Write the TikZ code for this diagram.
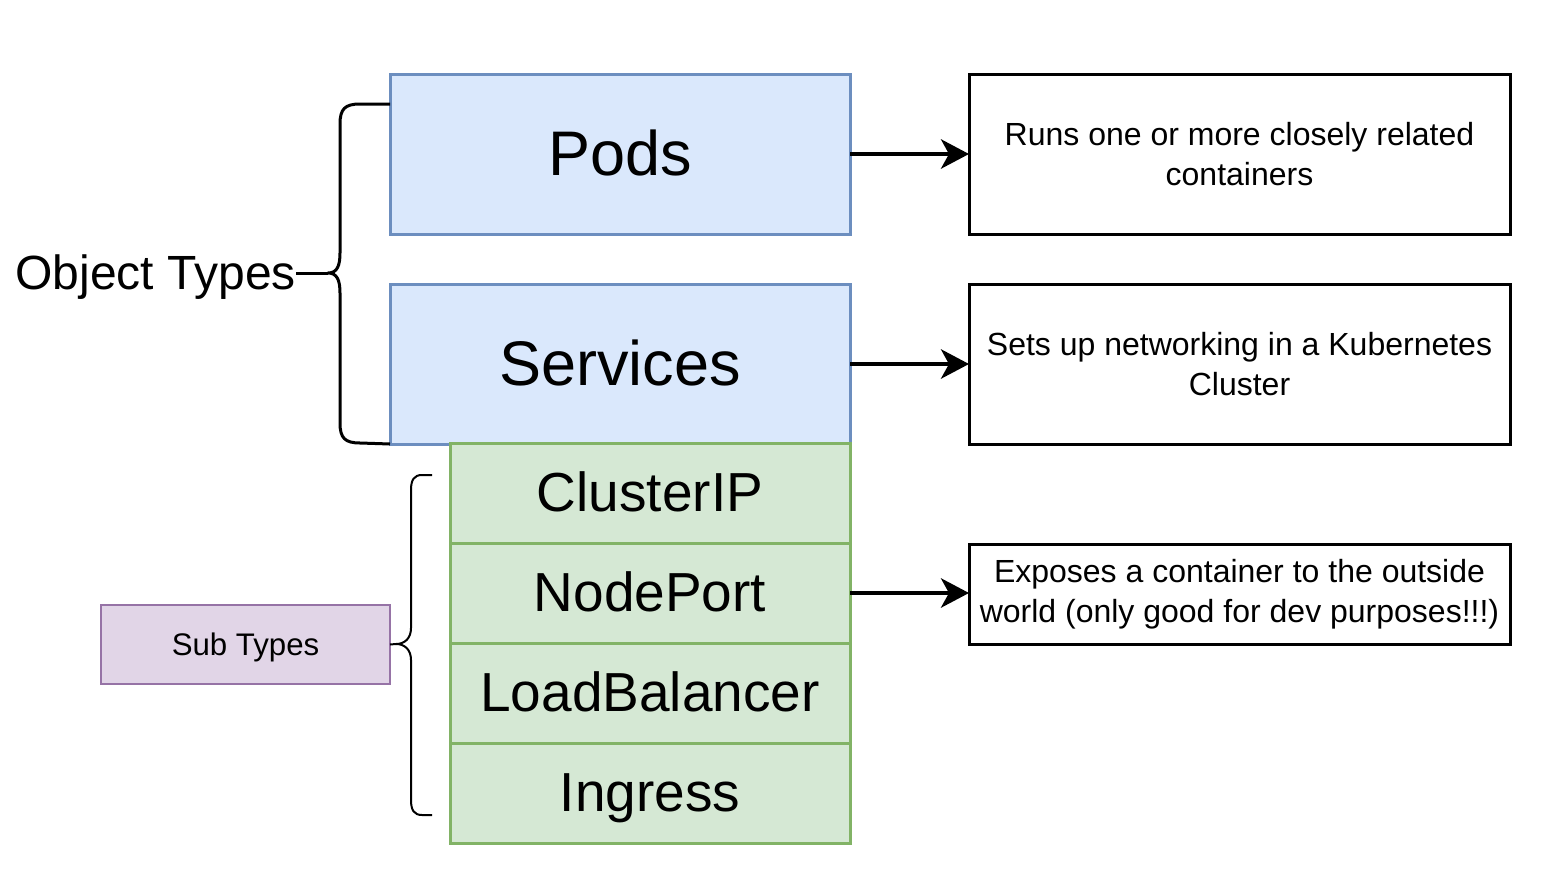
\documentclass[tikz,border=0pt]{standalone}
\usepackage{fontspec}
\setmainfont{Liberation Sans}
\usetikzlibrary{arrows.meta,calc}
\definecolor{bluefill}{HTML}{DAE8FC}
\definecolor{bluedraw}{HTML}{6C8EBF}
\definecolor{greenfill}{HTML}{D5E8D4}
\definecolor{greendraw}{HTML}{82B366}
\definecolor{purplefill}{HTML}{E1D5E7}
\definecolor{purpledraw}{HTML}{9673A6}
\begin{document}
\begin{tikzpicture}[x=0.75pt,y=-0.75pt,
  objbox/.style={rectangle, inner sep=0, outer sep=0, fill=bluefill, draw=bluedraw,
    line width=2.25pt, minimum width=345pt, minimum height=120pt,
    font=\fontsize{47.25}{56}\selectfont, text height=42.5pt, text depth=10pt},
  subbox/.style={rectangle, inner sep=0, outer sep=0, fill=greenfill, draw=greendraw,
    line width=2.25pt, minimum width=300pt, minimum height=75pt,
    font=\fontsize{41.25}{50}\selectfont, text height=37.1pt, text depth=8.7pt},
  notebox/.style={rectangle, inner sep=0, outer sep=0, draw=black, line width=2.25pt,
    minimum width=405.75pt, align=center, font=\fontsize{24}{30}\selectfont},
  tagbox/.style={rectangle, inner sep=0, outer sep=0, fill=purplefill, draw=purpledraw,
    line width=1.5pt, minimum width=216.75pt, minimum height=59.25pt,
    font=\fontsize{23.4}{28}\selectfont, text height=21pt, text depth=4.9pt},
  arr/.style={line width=3pt, -{Stealth[length=21pt, width=22pt, inset=6pt]}},
  bigbrace/.style={line width=2.25pt, line join=round},
  smallbrace/.style={line width=1.5pt, line join=round}]
\useasboundingbox (0,0) rectangle (1554,896);

% object types
\node[objbox] (pods) at (620,154) {Pods};
\node[objbox] (services) at (620,364) {Services};

% service sub types
\node[subbox] (clusterip) at (650,493) {ClusterIP};
\node[subbox] (nodeport) at (650,593) {NodePort};
\node[subbox] (loadbalancer) at (650,693) {LoadBalancer};
\node[subbox] (ingress) at (650,793) {Ingress};

% descriptions
\node[notebox, minimum height=120pt] (podsnote) at (1239.5,154)
  {Runs one or more closely related\\containers};
\node[notebox, minimum height=120pt] (servicesnote) at (1239.5,364)
  {Sets up networking in a Kubernetes\\Cluster};
\node[notebox, minimum height=75pt] (nodeportnote) at (1239.5,594)
  {Exposes a container to the outside\\world (only good for dev purposes!!!)};

% labels
\node[anchor=east, inner sep=0, font=\fontsize{36}{42}\selectfont,
  text height=32.4pt, text depth=7.6pt] (objtypes) at (296,273) {Object Types};
\node[tagbox] (subtypes) at (245.5,644.5) {Sub Types};

% arrows
\draw[arr] (pods.east) -- (podsnote.west);
\draw[arr] (services.east) -- (servicesnote.west);
\draw[arr] (nodeport.east) -- (nodeport.east -| nodeportnote.west);

% brace grouping the object types
\coordinate (bigtip) at (328,273);
\draw[bigbrace] ($(pods.north west)+(0,30)$) -- (360,104)
  .. controls (345,104) and (340,109) .. (340,124) -- (340,253)
  .. controls (340,266) and (337,273) .. (bigtip)
  .. controls (337,273) and (340,280) .. (340,293) -- (340,423)
  .. controls (340,438) and (345,443) .. (360,443) -- (services.south west);
\draw[bigbrace] (objtypes.east) -- (bigtip);

% brace grouping the sub types
\coordinate (smalltip) at (396,644);
\draw[smallbrace] ($(clusterip.north west)+(-18,32)$) -- (422,475)
  .. controls (414,475) and (411,480) .. (411,490) -- (411,628)
  .. controls (411,638) and (405,644) .. (smalltip)
  .. controls (405,644) and (411,650) .. (411,660) -- (411,800)
  .. controls (411,810) and (414,815) .. (422,815) -- (432,815);
\draw[smallbrace] (subtypes.east) -- (smalltip);
\end{tikzpicture}
\end{document}
